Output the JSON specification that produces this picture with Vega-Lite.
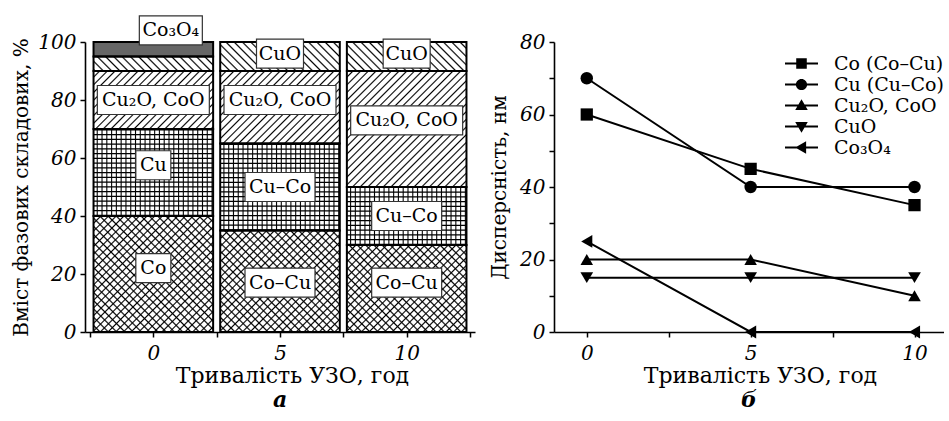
{
  "$schema": "https://vega.github.io/schema/vega-lite/v6.json",
  "background": "white",
  "padding": {"left": 11, "top": 13, "right": 0, "bottom": 0},
  "bounds": "flush",
  "spacing": 79,
  "config": {
    "view": {"stroke": null},
    "font": "DejaVu Serif, Liberation Serif, serif",
    "axis": {"labelFont": "DejaVu Serif, Liberation Serif, serif", "labelFontStyle": "italic", "labelFontSize": 20, "labelColor": "black", "titleFont": "DejaVu Serif, Liberation Serif, serif", "titleFontSize": 20, "titleFontWeight": "normal", "titleColor": "black", "domainColor": "black", "domainWidth": 1.6, "tickColor": "black", "tickWidth": 1.5, "tickSize": 5, "grid": false, "labelFlush": false, "labelOverlap": false},
    "legend": {"labelFont": "DejaVu Serif, Liberation Serif, serif"},
    "text": {"font": "DejaVu Serif, Liberation Serif, serif"},
    "title": {"font": "DejaVu Serif, Liberation Serif, serif", "fontStyle": "italic", "fontWeight": "bold", "fontSize": 22, "color": "black"}
  },
  "resolve": {"scale": {"shape": "independent", "size": "independent"}, "legend": {"shape": "independent", "size": "independent"}},
  "datasets": {
    "phases": [
      {"t": 0, "phase": "Co", "i": 1, "value": 40},
      {"t": 0, "phase": "Cu", "i": 2, "value": 30},
      {"t": 0, "phase": "Cu2O", "i": 3, "value": 20},
      {"t": 0, "phase": "CuO", "i": 4, "value": 5},
      {"t": 0, "phase": "Co3O4", "i": 5, "value": 5},
      {"t": 5, "phase": "Co", "i": 1, "value": 35},
      {"t": 5, "phase": "Cu", "i": 2, "value": 30},
      {"t": 5, "phase": "Cu2O", "i": 3, "value": 25},
      {"t": 5, "phase": "CuO", "i": 4, "value": 10},
      {"t": 10, "phase": "Co", "i": 1, "value": 30},
      {"t": 10, "phase": "Cu", "i": 2, "value": 20},
      {"t": 10, "phase": "Cu2O", "i": 3, "value": 40},
      {"t": 10, "phase": "CuO", "i": 4, "value": 10}
    ],
    "labels": [
      {"t": 0, "text": "Co", "y": 22},
      {"t": 0, "text": "Cu", "y": 57.5},
      {"t": 0, "text": "Cu₂O, CoO", "y": 80},
      {"t": 0, "text": "Co₃O₄", "y": 104},
      {"t": 5, "text": "Co–Cu", "y": 17},
      {"t": 5, "text": "Cu–Co", "y": 50},
      {"t": 5, "text": "Cu₂O, CoO", "y": 80},
      {"t": 5, "text": "CuO", "y": 96},
      {"t": 10, "text": "Co–Cu", "y": 17},
      {"t": 10, "text": "Cu–Co", "y": 40},
      {"t": 10, "text": "Cu₂O, CoO", "y": 73},
      {"t": 10, "text": "CuO", "y": 96}
    ],
    "disp": [
      {"s": "Co (Co–Cu)", "t": 0, "v": 60},
      {"s": "Co (Co–Cu)", "t": 5, "v": 45},
      {"s": "Co (Co–Cu)", "t": 10, "v": 35},
      {"s": "Cu (Cu–Co)", "t": 0, "v": 70},
      {"s": "Cu (Cu–Co)", "t": 5, "v": 40},
      {"s": "Cu (Cu–Co)", "t": 10, "v": 40},
      {"s": "Cu₂O, CoO", "t": 0, "v": 20},
      {"s": "Cu₂O, CoO", "t": 5, "v": 20},
      {"s": "Cu₂O, CoO", "t": 10, "v": 10},
      {"s": "CuO", "t": 0, "v": 15},
      {"s": "CuO", "t": 5, "v": 15},
      {"s": "CuO", "t": 10, "v": 15},
      {"s": "Co₃O₄", "t": 0, "v": 25},
      {"s": "Co₃O₄", "t": 5, "v": 0},
      {"s": "Co₃O₄", "t": 10, "v": 0}
    ]
  },
  "hconcat": [
    {
      "width": 390,
      "height": 290,
      "title": {"text": "а", "orient": "bottom", "offset": 4, "font": "DejaVu Serif, Liberation Serif, serif", "fontStyle": "italic", "fontWeight": "bold", "fontSize": 22},
      "data": {"name": "phases"},
      "encoding": {
        "x": {"field": "t", "type": "quantitative", "title": "Тривалість УЗО, год", "scale": {"domain": [-2.5, 12.5], "nice": false, "zero": false}, "axis": {"values": [-2.5, 0, 2.5, 5, 7.5, 10, 12.5], "labelExpr": "datum.value % 5 == 0 ? datum.label : ''", "labelPadding": 6, "titlePadding": 2, "titleX": 207, "labelFont": "DejaVu Serif, Liberation Serif, serif", "titleFont": "DejaVu Serif, Liberation Serif, serif", "labelFontStyle": "italic", "labelFontSize": 20, "titleFontSize": 22}}
      },
      "layer": [
        {
          "mark": {"type": "bar", "width": 119.6, "fill": {"gradient": "linear", "x1": 0, "y1": 1, "x2": 0.5019, "y2": -0.217, "stops": [
            {"offset":0,"color":"#fff"},{"offset":0.012,"color":"#fff"},{"offset":0.016,"color":"#000"},
            {"offset":0.02,"color":"#fff"},{"offset":0.032,"color":"#fff"},{"offset":0.036,"color":"#000"},
            {"offset":0.04,"color":"#fff"},{"offset":0.052,"color":"#fff"},{"offset":0.056,"color":"#000"},
            {"offset":0.06,"color":"#fff"},{"offset":0.072,"color":"#fff"},{"offset":0.076,"color":"#000"},
            {"offset":0.08,"color":"#fff"},{"offset":0.092,"color":"#fff"},{"offset":0.096,"color":"#000"},
            {"offset":0.1,"color":"#fff"},{"offset":0.112,"color":"#fff"},{"offset":0.116,"color":"#000"},
            {"offset":0.12,"color":"#fff"},{"offset":0.132,"color":"#fff"},{"offset":0.136,"color":"#000"},
            {"offset":0.14,"color":"#fff"},{"offset":0.152,"color":"#fff"},{"offset":0.156,"color":"#000"},
            {"offset":0.16,"color":"#fff"},{"offset":0.172,"color":"#fff"},{"offset":0.176,"color":"#000"},
            {"offset":0.18,"color":"#fff"},{"offset":0.192,"color":"#fff"},{"offset":0.196,"color":"#000"},
            {"offset":0.2,"color":"#fff"},{"offset":0.212,"color":"#fff"},{"offset":0.216,"color":"#000"},
            {"offset":0.22,"color":"#fff"},{"offset":0.232,"color":"#fff"},{"offset":0.236,"color":"#000"},
            {"offset":0.24,"color":"#fff"},{"offset":0.252,"color":"#fff"},{"offset":0.256,"color":"#000"},
            {"offset":0.26,"color":"#fff"},{"offset":0.272,"color":"#fff"},{"offset":0.276,"color":"#000"},
            {"offset":0.28,"color":"#fff"},{"offset":0.292,"color":"#fff"},{"offset":0.296,"color":"#000"},
            {"offset":0.3,"color":"#fff"},{"offset":0.312,"color":"#fff"},{"offset":0.316,"color":"#000"},
            {"offset":0.32,"color":"#fff"},{"offset":0.332,"color":"#fff"},{"offset":0.336,"color":"#000"},
            {"offset":0.34,"color":"#fff"},{"offset":0.352,"color":"#fff"},{"offset":0.356,"color":"#000"},
            {"offset":0.36,"color":"#fff"},{"offset":0.372,"color":"#fff"},{"offset":0.376,"color":"#000"},
            {"offset":0.38,"color":"#fff"},{"offset":0.392,"color":"#fff"},{"offset":0.396,"color":"#000"},
            {"offset":0.4,"color":"#fff"},{"offset":0.412,"color":"#fff"},{"offset":0.416,"color":"#000"},
            {"offset":0.42,"color":"#fff"},{"offset":0.432,"color":"#fff"},{"offset":0.436,"color":"#000"},
            {"offset":0.44,"color":"#fff"},{"offset":0.452,"color":"#fff"},{"offset":0.456,"color":"#000"},
            {"offset":0.46,"color":"#fff"},{"offset":0.472,"color":"#fff"},{"offset":0.476,"color":"#000"},
            {"offset":0.48,"color":"#fff"},{"offset":0.492,"color":"#fff"},{"offset":0.496,"color":"#000"},
            {"offset":0.5,"color":"#fff"},{"offset":0.512,"color":"#fff"},{"offset":0.516,"color":"#000"},
            {"offset":0.52,"color":"#fff"},{"offset":0.532,"color":"#fff"},{"offset":0.536,"color":"#000"},
            {"offset":0.54,"color":"#fff"},{"offset":0.552,"color":"#fff"},{"offset":0.556,"color":"#000"},
            {"offset":0.56,"color":"#fff"},{"offset":0.572,"color":"#fff"},{"offset":0.576,"color":"#000"},
            {"offset":0.58,"color":"#fff"},{"offset":0.592,"color":"#fff"},{"offset":0.596,"color":"#000"},
            {"offset":0.6,"color":"#fff"},{"offset":0.612,"color":"#fff"},{"offset":0.616,"color":"#000"},
            {"offset":0.62,"color":"#fff"},{"offset":0.632,"color":"#fff"},{"offset":0.636,"color":"#000"},
            {"offset":0.64,"color":"#fff"},{"offset":0.652,"color":"#fff"},{"offset":0.656,"color":"#000"},
            {"offset":0.66,"color":"#fff"},{"offset":0.672,"color":"#fff"},{"offset":0.676,"color":"#000"},
            {"offset":0.68,"color":"#fff"},{"offset":0.692,"color":"#fff"},{"offset":0.696,"color":"#000"},
            {"offset":0.7,"color":"#fff"},{"offset":0.712,"color":"#fff"},{"offset":0.716,"color":"#000"},
            {"offset":0.72,"color":"#fff"},{"offset":0.732,"color":"#fff"},{"offset":0.736,"color":"#000"},
            {"offset":0.74,"color":"#fff"},{"offset":0.752,"color":"#fff"},{"offset":0.756,"color":"#000"},
            {"offset":0.76,"color":"#fff"},{"offset":0.772,"color":"#fff"},{"offset":0.776,"color":"#000"},
            {"offset":0.78,"color":"#fff"},{"offset":0.792,"color":"#fff"},{"offset":0.796,"color":"#000"},
            {"offset":0.8,"color":"#fff"},{"offset":0.812,"color":"#fff"},{"offset":0.816,"color":"#000"},
            {"offset":0.82,"color":"#fff"},{"offset":0.832,"color":"#fff"},{"offset":0.836,"color":"#000"},
            {"offset":0.84,"color":"#fff"},{"offset":0.852,"color":"#fff"},{"offset":0.856,"color":"#000"},
            {"offset":0.86,"color":"#fff"},{"offset":0.872,"color":"#fff"},{"offset":0.876,"color":"#000"},
            {"offset":0.88,"color":"#fff"},{"offset":0.892,"color":"#fff"},{"offset":0.896,"color":"#000"},
            {"offset":0.9,"color":"#fff"},{"offset":0.912,"color":"#fff"},{"offset":0.916,"color":"#000"},
            {"offset":0.92,"color":"#fff"},{"offset":0.932,"color":"#fff"},{"offset":0.936,"color":"#000"},
            {"offset":0.94,"color":"#fff"},{"offset":0.952,"color":"#fff"},{"offset":0.956,"color":"#000"},
            {"offset":0.96,"color":"#fff"},{"offset":0.972,"color":"#fff"},{"offset":0.976,"color":"#000"},
            {"offset":0.98,"color":"#fff"},{"offset":0.992,"color":"#fff"},{"offset":0.996,"color":"#000"},
            {"offset":1,"color":"#fff"}]}},
          "encoding": {
            "y": {"aggregate": "sum", "field": "value", "type": "quantitative", "title": "Вміст фазових складових, %", "scale": {"domain": [0, 100], "nice": false}, "axis": {"values": [0, 10, 20, 30, 40, 50, 60, 70, 80, 90, 100], "labelExpr": "datum.value % 20 == 0 ? datum.label : ''", "labelPadding": 4, "titlePadding": 6, "labelFont": "DejaVu Serif, Liberation Serif, serif", "titleFont": "DejaVu Serif, Liberation Serif, serif", "labelFontStyle": "italic", "labelFontSize": 20, "titleFontSize": 20}}
          }
        },
        {
          "transform": [{"stack": "value", "groupby": ["t"], "sort": [{"field": "i", "order": "ascending"}], "as": ["y0", "y1"]}, {"filter": {"field": "phase", "oneOf": ["Cu", "Cu2O"]}}],
          "mark": {"type": "bar", "width": 119.6, "fill": "white"},
          "encoding": {"y": {"field": "y0", "type": "quantitative", "title": "Вміст фазових складових, %"}, "y2": {"field": "y1"}}
        },
        {
          "transform": [{"filter": {"field": "phase", "oneOf": ["Co", "Cu", "Cu2O"]}}],
          "mark": {"type": "bar", "width": 119.6, "fill": {"gradient": "linear", "x1": 0, "y1": 0, "x2": 0.5582, "y2": 1.2181, "stops": [
            {"offset":0,"color":"transparent"},{"offset":0.012,"color":"transparent"},{"offset":0.016,"color":"#000"},
            {"offset":0.02,"color":"transparent"},{"offset":0.032,"color":"transparent"},{"offset":0.036,"color":"#000"},
            {"offset":0.04,"color":"transparent"},{"offset":0.052,"color":"transparent"},{"offset":0.056,"color":"#000"},
            {"offset":0.06,"color":"transparent"},{"offset":0.072,"color":"transparent"},{"offset":0.076,"color":"#000"},
            {"offset":0.08,"color":"transparent"},{"offset":0.092,"color":"transparent"},{"offset":0.096,"color":"#000"},
            {"offset":0.1,"color":"transparent"},{"offset":0.112,"color":"transparent"},{"offset":0.116,"color":"#000"},
            {"offset":0.12,"color":"transparent"},{"offset":0.132,"color":"transparent"},{"offset":0.136,"color":"#000"},
            {"offset":0.14,"color":"transparent"},{"offset":0.152,"color":"transparent"},{"offset":0.156,"color":"#000"},
            {"offset":0.16,"color":"transparent"},{"offset":0.172,"color":"transparent"},{"offset":0.176,"color":"#000"},
            {"offset":0.18,"color":"transparent"},{"offset":0.192,"color":"transparent"},{"offset":0.196,"color":"#000"},
            {"offset":0.2,"color":"transparent"},{"offset":0.212,"color":"transparent"},{"offset":0.216,"color":"#000"},
            {"offset":0.22,"color":"transparent"},{"offset":0.232,"color":"transparent"},{"offset":0.236,"color":"#000"},
            {"offset":0.24,"color":"transparent"},{"offset":0.252,"color":"transparent"},{"offset":0.256,"color":"#000"},
            {"offset":0.26,"color":"transparent"},{"offset":0.272,"color":"transparent"},{"offset":0.276,"color":"#000"},
            {"offset":0.28,"color":"transparent"},{"offset":0.292,"color":"transparent"},{"offset":0.296,"color":"#000"},
            {"offset":0.3,"color":"transparent"},{"offset":0.312,"color":"transparent"},{"offset":0.316,"color":"#000"},
            {"offset":0.32,"color":"transparent"},{"offset":0.332,"color":"transparent"},{"offset":0.336,"color":"#000"},
            {"offset":0.34,"color":"transparent"},{"offset":0.352,"color":"transparent"},{"offset":0.356,"color":"#000"},
            {"offset":0.36,"color":"transparent"},{"offset":0.372,"color":"transparent"},{"offset":0.376,"color":"#000"},
            {"offset":0.38,"color":"transparent"},{"offset":0.392,"color":"transparent"},{"offset":0.396,"color":"#000"},
            {"offset":0.4,"color":"transparent"},{"offset":0.412,"color":"transparent"},{"offset":0.416,"color":"#000"},
            {"offset":0.42,"color":"transparent"},{"offset":0.432,"color":"transparent"},{"offset":0.436,"color":"#000"},
            {"offset":0.44,"color":"transparent"},{"offset":0.452,"color":"transparent"},{"offset":0.456,"color":"#000"},
            {"offset":0.46,"color":"transparent"},{"offset":0.472,"color":"transparent"},{"offset":0.476,"color":"#000"},
            {"offset":0.48,"color":"transparent"},{"offset":0.492,"color":"transparent"},{"offset":0.496,"color":"#000"},
            {"offset":0.5,"color":"transparent"},{"offset":0.512,"color":"transparent"},{"offset":0.516,"color":"#000"},
            {"offset":0.52,"color":"transparent"},{"offset":0.532,"color":"transparent"},{"offset":0.536,"color":"#000"},
            {"offset":0.54,"color":"transparent"},{"offset":0.552,"color":"transparent"},{"offset":0.556,"color":"#000"},
            {"offset":0.56,"color":"transparent"},{"offset":0.572,"color":"transparent"},{"offset":0.576,"color":"#000"},
            {"offset":0.58,"color":"transparent"},{"offset":0.592,"color":"transparent"},{"offset":0.596,"color":"#000"},
            {"offset":0.6,"color":"transparent"},{"offset":0.612,"color":"transparent"},{"offset":0.616,"color":"#000"},
            {"offset":0.62,"color":"transparent"},{"offset":0.632,"color":"transparent"},{"offset":0.636,"color":"#000"},
            {"offset":0.64,"color":"transparent"},{"offset":0.652,"color":"transparent"},{"offset":0.656,"color":"#000"},
            {"offset":0.66,"color":"transparent"},{"offset":0.672,"color":"transparent"},{"offset":0.676,"color":"#000"},
            {"offset":0.68,"color":"transparent"},{"offset":0.692,"color":"transparent"},{"offset":0.696,"color":"#000"},
            {"offset":0.7,"color":"transparent"},{"offset":0.712,"color":"transparent"},{"offset":0.716,"color":"#000"},
            {"offset":0.72,"color":"transparent"},{"offset":0.732,"color":"transparent"},{"offset":0.736,"color":"#000"},
            {"offset":0.74,"color":"transparent"},{"offset":0.752,"color":"transparent"},{"offset":0.756,"color":"#000"},
            {"offset":0.76,"color":"transparent"},{"offset":0.772,"color":"transparent"},{"offset":0.776,"color":"#000"},
            {"offset":0.78,"color":"transparent"},{"offset":0.792,"color":"transparent"},{"offset":0.796,"color":"#000"},
            {"offset":0.8,"color":"transparent"},{"offset":0.812,"color":"transparent"},{"offset":0.816,"color":"#000"},
            {"offset":0.82,"color":"transparent"},{"offset":0.832,"color":"transparent"},{"offset":0.836,"color":"#000"},
            {"offset":0.84,"color":"transparent"},{"offset":0.852,"color":"transparent"},{"offset":0.856,"color":"#000"},
            {"offset":0.86,"color":"transparent"},{"offset":0.872,"color":"transparent"},{"offset":0.876,"color":"#000"},
            {"offset":0.88,"color":"transparent"},{"offset":0.892,"color":"transparent"},{"offset":0.896,"color":"#000"},
            {"offset":0.9,"color":"transparent"},{"offset":0.912,"color":"transparent"},{"offset":0.916,"color":"#000"},
            {"offset":0.92,"color":"transparent"},{"offset":0.932,"color":"transparent"},{"offset":0.936,"color":"#000"},
            {"offset":0.94,"color":"transparent"},{"offset":0.952,"color":"transparent"},{"offset":0.956,"color":"#000"},
            {"offset":0.96,"color":"transparent"},{"offset":0.972,"color":"transparent"},{"offset":0.976,"color":"#000"},
            {"offset":0.98,"color":"transparent"},{"offset":0.992,"color":"transparent"},{"offset":0.996,"color":"#000"},
            {"offset":1,"color":"transparent"}]}},
          "encoding": {"y": {"aggregate": "sum", "field": "value", "type": "quantitative", "title": "Вміст фазових складових, %"}}
        },
        {
          "transform": [{"stack": "value", "groupby": ["t"], "sort": [{"field": "i", "order": "ascending"}], "as": ["y0", "y1"]}, {"filter": {"field": "phase", "equal": "Cu"}}],
          "mark": {"type": "bar", "width": 119.6, "fill": {"gradient": "linear", "x1": 0, "y1": 0, "x2": 1, "y2": 0, "stops": [
            {"offset":0,"color":"#fff"},{"offset":0.022,"color":"#fff"},{"offset":0.031,"color":"#000"},
            {"offset":0.04,"color":"#fff"},{"offset":0.062,"color":"#fff"},{"offset":0.071,"color":"#000"},
            {"offset":0.08,"color":"#fff"},{"offset":0.102,"color":"#fff"},{"offset":0.111,"color":"#000"},
            {"offset":0.12,"color":"#fff"},{"offset":0.142,"color":"#fff"},{"offset":0.151,"color":"#000"},
            {"offset":0.16,"color":"#fff"},{"offset":0.182,"color":"#fff"},{"offset":0.191,"color":"#000"},
            {"offset":0.2,"color":"#fff"},{"offset":0.222,"color":"#fff"},{"offset":0.231,"color":"#000"},
            {"offset":0.24,"color":"#fff"},{"offset":0.262,"color":"#fff"},{"offset":0.271,"color":"#000"},
            {"offset":0.28,"color":"#fff"},{"offset":0.302,"color":"#fff"},{"offset":0.311,"color":"#000"},
            {"offset":0.32,"color":"#fff"},{"offset":0.342,"color":"#fff"},{"offset":0.351,"color":"#000"},
            {"offset":0.36,"color":"#fff"},{"offset":0.382,"color":"#fff"},{"offset":0.391,"color":"#000"},
            {"offset":0.4,"color":"#fff"},{"offset":0.422,"color":"#fff"},{"offset":0.431,"color":"#000"},
            {"offset":0.44,"color":"#fff"},{"offset":0.462,"color":"#fff"},{"offset":0.471,"color":"#000"},
            {"offset":0.48,"color":"#fff"},{"offset":0.502,"color":"#fff"},{"offset":0.511,"color":"#000"},
            {"offset":0.52,"color":"#fff"},{"offset":0.542,"color":"#fff"},{"offset":0.551,"color":"#000"},
            {"offset":0.56,"color":"#fff"},{"offset":0.582,"color":"#fff"},{"offset":0.591,"color":"#000"},
            {"offset":0.6,"color":"#fff"},{"offset":0.622,"color":"#fff"},{"offset":0.631,"color":"#000"},
            {"offset":0.64,"color":"#fff"},{"offset":0.662,"color":"#fff"},{"offset":0.671,"color":"#000"},
            {"offset":0.68,"color":"#fff"},{"offset":0.702,"color":"#fff"},{"offset":0.711,"color":"#000"},
            {"offset":0.72,"color":"#fff"},{"offset":0.742,"color":"#fff"},{"offset":0.751,"color":"#000"},
            {"offset":0.76,"color":"#fff"},{"offset":0.782,"color":"#fff"},{"offset":0.791,"color":"#000"},
            {"offset":0.8,"color":"#fff"},{"offset":0.822,"color":"#fff"},{"offset":0.831,"color":"#000"},
            {"offset":0.84,"color":"#fff"},{"offset":0.862,"color":"#fff"},{"offset":0.871,"color":"#000"},
            {"offset":0.88,"color":"#fff"},{"offset":0.902,"color":"#fff"},{"offset":0.911,"color":"#000"},
            {"offset":0.92,"color":"#fff"},{"offset":0.942,"color":"#fff"},{"offset":0.951,"color":"#000"},
            {"offset":0.96,"color":"#fff"},{"offset":0.982,"color":"#fff"},{"offset":0.991,"color":"#000"},
            {"offset":1,"color":"#fff"}]}},
          "encoding": {"y": {"field": "y0", "type": "quantitative", "title": "Вміст фазових складових, %"}, "y2": {"field": "y1"}}
        },
        {
          "transform": [{"stack": "value", "groupby": ["t"], "sort": [{"field": "i", "order": "ascending"}], "as": ["y0", "y1"]}, {"filter": {"field": "phase", "equal": "Cu"}}],
          "mark": {"type": "rule", "strokeWidth": 119.6, "strokeDash": [1.2, 3.55], "strokeCap": "butt", "color": "black"},
          "encoding": {"y": {"field": "y0", "type": "quantitative", "title": "Вміст фазових складових, %"}, "y2": {"field": "y1"}}
        },
        {
          "transform": [{"stack": "value", "groupby": ["t"], "sort": [{"field": "i", "order": "ascending"}], "as": ["y0", "y1"]}, {"filter": {"field": "phase", "equal": "Co3O4"}}],
          "mark": {"type": "bar", "width": 119.6, "fill": "#666666"},
          "encoding": {"y": {"field": "y0", "type": "quantitative", "title": "Вміст фазових складових, %"}, "y2": {"field": "y1"}}
        },
        {
          "transform": [{"stack": "value", "groupby": ["t"], "sort": [{"field": "i", "order": "ascending"}], "as": ["y0", "y1"]}],
          "mark": {"type": "bar", "width": 119.6, "fill": "transparent", "stroke": "black", "strokeWidth": 2},
          "encoding": {"y": {"field": "y0", "type": "quantitative", "title": "Вміст фазових складових, %"}, "y2": {"field": "y1"}}
        },
        {
          "data": {"name": "labels"},
          "transform": [{"filter": {"field": "text", "oneOf": ["Co", "Cu"]}}],
          "mark": {"type": "point", "filled": true, "fill": "white", "stroke": "#333", "strokeWidth": 1.2, "opacity": 1, "shape": "M-1,-0.829H1V0.829H-1Z", "size": 1225},
          "encoding": {"y": {"field": "y", "type": "quantitative", "title": "Вміст фазових складових, %"}}
        },
        {
          "data": {"name": "labels"},
          "transform": [{"filter": {"field": "text", "equal": "CuO"}}],
          "mark": {"type": "point", "filled": true, "fill": "white", "stroke": "#333", "strokeWidth": 1.2, "opacity": 1, "shape": "M-1,-0.617H1V0.617H-1Z", "size": 2209},
          "encoding": {"y": {"field": "y", "type": "quantitative", "title": "Вміст фазових складових, %"}}
        },
        {
          "data": {"name": "labels"},
          "transform": [{"filter": {"field": "text", "oneOf": ["Cu–Co", "Co–Cu"]}}],
          "mark": {"type": "point", "filled": true, "fill": "white", "stroke": "#333", "strokeWidth": 1.2, "opacity": 1, "shape": "M-1,-0.414H1V0.414H-1Z", "size": 4900},
          "encoding": {"y": {"field": "y", "type": "quantitative", "title": "Вміст фазових складових, %"}}
        },
        {
          "data": {"name": "labels"},
          "transform": [{"filter": {"field": "text", "equal": "Cu₂O, CoO"}}],
          "mark": {"type": "point", "filled": true, "fill": "white", "stroke": "#333", "strokeWidth": 1.2, "opacity": 1, "shape": "M-1,-0.259H1V0.259H-1Z", "size": 12544},
          "encoding": {"y": {"field": "y", "type": "quantitative", "title": "Вміст фазових складових, %"}}
        },
        {
          "data": {"name": "labels"},
          "transform": [{"filter": {"field": "text", "equal": "Co₃O₄"}}],
          "mark": {"type": "point", "filled": true, "fill": "white", "stroke": "#333", "strokeWidth": 1.2, "opacity": 1, "shape": "M-1,-0.46H1V0.46H-1Z", "size": 3969, "xOffset": 17.5},
          "encoding": {"y": {"field": "y", "type": "quantitative", "title": "Вміст фазових складових, %"}}
        },
        {
          "data": {"name": "labels"},
          "transform": [{"filter": "datum.text != 'Co₃O₄'"}],
          "mark": {"type": "text", "font": "DejaVu Serif, Liberation Serif, serif", "fontSize": 19, "color": "black", "align": "center", "baseline": "middle"},
          "encoding": {"y": {"field": "y", "type": "quantitative", "title": "Вміст фазових складових, %"}, "text": {"field": "text"}}
        },
        {
          "data": {"name": "labels"},
          "transform": [{"filter": "datum.text == 'Co₃O₄'"}],
          "mark": {"type": "text", "font": "DejaVu Serif, Liberation Serif, serif", "fontSize": 19, "color": "black", "align": "center", "baseline": "middle", "dx": 17.5},
          "encoding": {"y": {"field": "y", "type": "quantitative", "title": "Вміст фазових складових, %"}, "text": {"field": "text"}}
        }
      ]
    },
    {
      "width": 390,
      "height": 290,
      "title": {"text": "б", "orient": "bottom", "offset": 4, "font": "DejaVu Serif, Liberation Serif, serif", "fontStyle": "italic", "fontWeight": "bold", "fontSize": 22},
      "data": {"name": "disp"},
      "encoding": {
        "x": {"field": "t", "type": "quantitative", "title": "Тривалість УЗО, год", "scale": {"domain": [-1, 10.9], "nice": false, "zero": false}, "axis": {"values": [0, 2.5, 5, 7.5, 10], "labelExpr": "datum.value % 5 == 0 ? datum.label : ''", "labelPadding": 6, "titlePadding": 2, "titleX": 206, "labelFont": "DejaVu Serif, Liberation Serif, serif", "titleFont": "DejaVu Serif, Liberation Serif, serif", "labelFontStyle": "italic", "labelFontSize": 20, "titleFontSize": 22}},
        "y": {"field": "v", "type": "quantitative", "title": "Дисперсність, нм", "scale": {"domain": [0, 80], "nice": false}, "axis": {"values": [0, 10, 20, 30, 40, 50, 60, 70, 80], "labelExpr": "datum.value % 20 == 0 ? datum.label : ''", "labelPadding": 4, "titlePadding": 10, "labelFont": "DejaVu Serif, Liberation Serif, serif", "titleFont": "DejaVu Serif, Liberation Serif, serif", "labelFontStyle": "italic", "labelFontSize": 20, "titleFontSize": 20}}
      },
      "layer": [
        {
          "mark": {"type": "line", "color": "black", "strokeWidth": 2},
          "encoding": {"detail": {"field": "s"}}
        },
        {
          "mark": {"type": "point", "filled": true, "color": "black", "opacity": 1},
          "encoding": {
            "shape": {"field": "s", "type": "nominal", "legend": null, "scale": {"domain": ["Co (Co–Cu)", "Cu (Cu–Co)", "Cu₂O, CoO", "CuO", "Co₃O₄"], "range": ["square", "circle", "triangle-up", "triangle-down", "triangle-left"]}},
            "size": {"field": "s", "type": "ordinal", "legend": null, "scale": {"domain": ["Co (Co–Cu)", "Cu (Cu–Co)", "Cu₂O, CoO", "CuO", "Co₃O₄"], "range": [150, 165, 200, 200, 200]}}
          }
        },
        {
          "transform": [{"filter": "false"}],
          "mark": {"type": "point", "filled": true, "color": "black", "opacity": 1},
          "encoding": {
            "shape": {"field": "s", "type": "nominal", "scale": {"domain": ["Co (Co–Cu)", "Cu (Cu–Co)", "Cu₂O, CoO", "CuO", "Co₃O₄"], "range": ["M-1,-0.06H1V0.06H-1ZM-0.32,-0.32H0.32V0.32H-0.32Z", "M-1,-0.06H1V0.06H-1ZM0.34,0A0.34,0.34 0 1,1 -0.34,0A0.34,0.34 0 1,1 0.34,0Z", "M-1,-0.06H1V0.06H-1ZM0,-0.38L0.38,0.28H-0.38Z", "M-1,-0.06H1V0.06H-1ZM0,0.38L-0.38,-0.28H0.38Z", "M-1,-0.06H1V0.06H-1ZM-0.38,0L0.28,-0.38V0.38Z"]},
              "legend": {"orient": "none", "legendX": 231, "legendY": 11, "title": null, "padding": 0, "labelFont": "DejaVu Serif, Liberation Serif, serif", "labelFontSize": 19, "labelColor": "black", "labelOffset": 16, "symbolSize": 1089, "symbolFillColor": "black", "symbolStrokeColor": "black", "symbolStrokeWidth": 0, "symbolOpacity": 1, "clipHeight": 21, "rowPadding": 0, "labelLimit": 300}}
          }
        }
      ],
      "resolve": {"scale": {"shape": "independent", "size": "independent"}, "legend": {"shape": "independent", "size": "independent"}}
    }
  ]
}
